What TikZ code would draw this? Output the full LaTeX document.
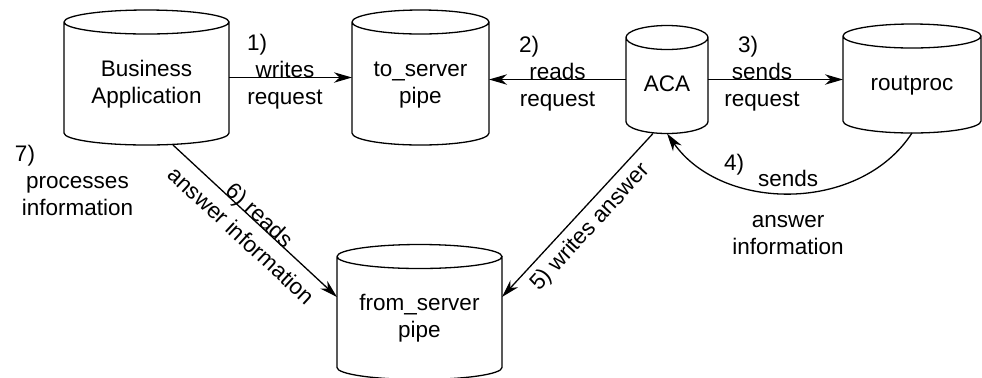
\documentclass[tikz,border=0pt]{standalone}
\usepackage{fontspec}
\setmainfont{Liberation Sans}
\usetikzlibrary{arrows.meta,calc}

\newcommand\cyltext[1]{\rule{0pt}{15pt}#1\rule[-3pt]{0pt}{3pt}}

\begin{document}
\begin{tikzpicture}[x=0.5pt, y=-0.5pt, font=\fontsize{11.25}{13.5}\selectfont,
	pipe/.style={rectangle, outer sep=0pt, inner sep=0pt, align=center},
	rim/.style={line width=0.65pt},
	flow/.style={line width=0.65pt, -{Stealth[length=9pt, width=5.2pt, inset=2.8pt]}},
	lbl/.style={align=center}]

	\useasboundingbox (0,0) rectangle (982,377);

	\node[pipe, minimum width=82.5pt, minimum height=67.5pt] (biz)  at (146.5, 77.5) {\cyltext{Business\\Application}};
	\node[pipe, minimum width=68.5pt, minimum height=67.5pt] (tos)  at (420.5, 77.5) {\cyltext{to\_server\\pipe}};
	\node[pipe, minimum width=41pt,   minimum height=54pt]   (aca)  at (667, 79.5)   {\cyltext{ACA}};
	\node[pipe, minimum width=69pt,   minimum height=54.5pt] (rout) at (912, 78.5)   {\cyltext{routproc}};
	\node[pipe, minimum width=82.5pt, minimum height=67.5pt] (fsp)  at (419.5, 312)  {\cyltext{from\_server\\pipe}};

	\foreach \cyl in {biz,tos,aca,rout,fsp}
		\draw[rim] let \p1=(\cyl.north west), \p2=(\cyl.south east), \n1={(\x2-\x1)/2} in
			([yshift=-6pt]\cyl.north west) -- ([yshift=6pt]\cyl.south west)
			arc[start angle=180, end angle=360, x radius=\n1, y radius=6pt]
			-- ([yshift=-6pt]\cyl.north east)
			([yshift=-6pt]\cyl.north west) arc[start angle=180, end angle=-180, x radius=\n1, y radius=6pt];

	\draw[flow] (biz.east) -- node[lbl, yshift=3pt, xshift=-2.75pt] {\makebox[38pt][l]{1)}\\writes\\request} (biz.east -| tos.west);
	\draw[flow] (aca.west) -- node[lbl, yshift=3pt] {\makebox[38.5pt][l]{2)}\\reads\\request} (aca.west -| tos.east);
	\draw[flow] (aca.east) -- node[lbl, yshift=3pt, xshift=-6.75pt] {\makebox[24pt][l]{3)}\\sends\\request} (aca.east -| rout.west);
	\draw[flow] (rout.south) to[out=-123, in=-55]
		node[lbl, yshift=-9.7pt, xshift=-1.25pt] (ans) {sends\\[7pt]answer\\information} (aca.south);
	\draw[flow] ([xshift=-7pt]aca.south) -- node[lbl, sloped, below] (wa) {5) writes answer} ([yshift=7.5pt]fsp.east);
	\draw[flow] ([xshift=13.25pt]biz.south) --
		node[lbl, sloped, anchor=base] (rd) {6) reads}
		node[lbl, sloped, anchor=north, inner sep=5.3pt] (ai) {answer information} ([yshift=7.5pt]fsp.west);

	\node[lbl] (n4) at (734, 165) {4)};
	\node[lbl] (n7) at (77.5, 180) {\makebox[62.5pt][l]{7)}\\processes\\information};

\end{tikzpicture}
\end{document}
